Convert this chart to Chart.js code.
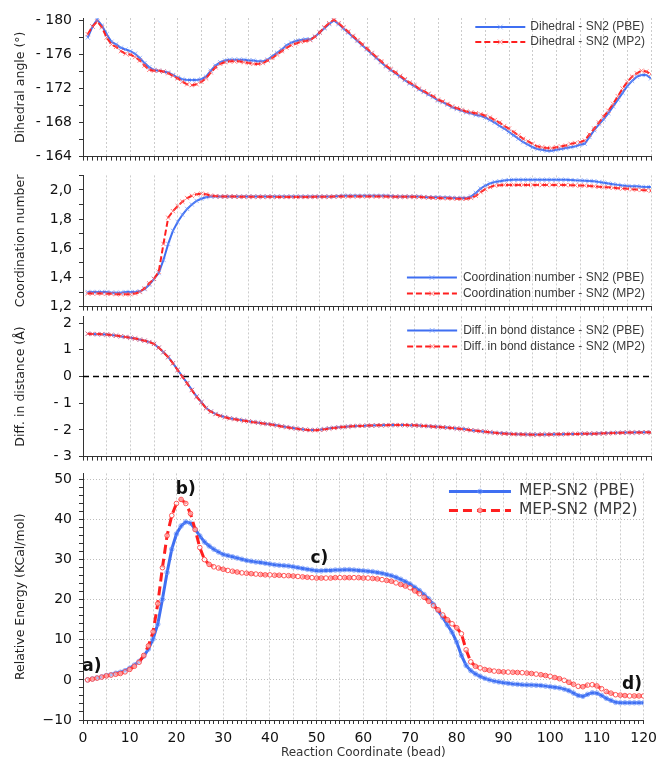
<!DOCTYPE html>
<html>
<head>
<meta charset="utf-8">
<script src="https://cdn.jsdelivr.net/npm/chart.js@4.4.0/dist/chart.umd.min.js"></script>
<style>
    body { margin: 0; background: #fff; }
    #wrap { position: relative; width: 663px; height: 765px; overflow: hidden; }
    .panel { position: absolute; left: 0; width: 663px; }
</style>
</head>
<body>
<div id="wrap">
    <div class="panel" style="top:0;height:172px"><canvas id="dihedralChart"></canvas></div>
    <div class="panel" style="top:160px;height:162px"><canvas id="coordChart"></canvas></div>
    <div class="panel" style="top:301px;height:171px"><canvas id="distChart"></canvas></div>
    <div class="panel" style="top:458px;height:307px"><canvas id="energyChart"></canvas></div>
</div>
<script>
// bead index along the reaction coordinate
const beads = Array.from({ length: 120 }, (_, i) => i + 1);

// Dihedral angle (deg, shown as "- 180" etc.)
const dihedralPbe = [
    178.0, 179.3, 180.1, 179.4, 178.4, 177.5, 177.2, 176.8, 176.6, 176.4,
    176.1, 175.6, 175.0, 174.5, 174.2, 174.1, 174.0, 173.9, 173.6, 173.3,
    173.1, 173.0, 173.0, 173.0, 173.1, 173.4, 174.1, 174.7, 175.1, 175.3,
    175.4, 175.4, 175.4, 175.4, 175.3, 175.3, 175.2, 175.2, 175.4, 175.8,
    176.2, 176.6, 177.1, 177.4, 177.6, 177.7, 177.8, 177.8, 178.1, 178.6,
    179.1, 179.6, 180.0, 179.6, 179.1, 178.6, 178.1, 177.6, 177.1, 176.6,
    176.1, 175.6, 175.1, 174.6, 174.2, 173.8, 173.4, 173.0, 172.6, 172.3,
    171.9, 171.6, 171.3, 171.0, 170.6, 170.4, 170.1, 169.8, 169.6, 169.4,
    169.2, 169.1, 168.9, 168.8, 168.6, 168.3, 168.0, 167.6, 167.3, 166.9,
    166.5, 166.1, 165.7, 165.4, 165.1, 164.9, 164.8, 164.7, 164.7, 164.8,
    164.9, 165.0, 165.1, 165.2, 165.4, 165.5, 166.3, 167.1, 167.8, 168.4,
    169.1, 169.9, 170.7, 171.5, 172.3, 172.9, 173.4, 173.6, 173.6, 173.2
];
const dihedralMp2 = [
    178.4, 179.3, 179.9, 179.2, 178.0, 177.2, 176.9, 176.4, 176.1, 176.0,
    175.7, 175.3, 174.7, 174.2, 174.1, 174.1, 174.0, 173.8, 173.5, 173.2,
    172.8, 172.5, 172.4, 172.5, 172.8, 173.2, 173.9, 174.5, 174.9, 175.1,
    175.2, 175.2, 175.2, 175.1, 175.0, 174.9, 174.9, 175.0, 175.3, 175.6,
    176.0, 176.4, 176.8, 177.1, 177.3, 177.5, 177.6, 177.7, 178.1, 178.6,
    179.2, 179.7, 180.1, 179.7, 179.2, 178.7, 178.2, 177.7, 177.2, 176.7,
    176.2, 175.7, 175.2, 174.7, 174.3, 173.9, 173.5, 173.1, 172.7, 172.4,
    172.0, 171.7, 171.4, 171.1, 170.7, 170.5, 170.2, 169.9, 169.7, 169.5,
    169.3, 169.2, 169.1, 169.0, 168.8, 168.6, 168.3, 168.0, 167.6, 167.3,
    166.9, 166.5, 166.1, 165.8, 165.5, 165.2, 165.1, 165.0, 165.0, 165.1,
    165.2, 165.3, 165.5, 165.6, 165.7, 165.9, 166.6, 167.3, 168.0, 168.7,
    169.4, 170.2, 171.1, 172.0, 172.8, 173.4, 173.8, 174.1, 174.0, 173.7
];

// Coordination number
const coordPbe = [
    1.300, 1.300, 1.300, 1.300, 1.300, 1.295, 1.295, 1.295, 1.300, 1.300,
    1.300, 1.305, 1.320, 1.350, 1.390, 1.430, 1.520, 1.630, 1.720, 1.780,
    1.830, 1.870, 1.900, 1.925, 1.940, 1.950, 1.955, 1.955, 1.955, 1.955,
    1.955, 1.955, 1.955, 1.955, 1.955, 1.955, 1.955, 1.955, 1.955, 1.955,
    1.955, 1.955, 1.955, 1.955, 1.955, 1.955, 1.955, 1.955, 1.955, 1.955,
    1.955, 1.955, 1.955, 1.958, 1.960, 1.960, 1.960, 1.960, 1.960, 1.960,
    1.960, 1.960, 1.960, 1.960, 1.958, 1.955, 1.955, 1.955, 1.955, 1.955,
    1.955, 1.952, 1.950, 1.950, 1.950, 1.948, 1.948, 1.946, 1.945, 1.945,
    1.945, 1.955, 1.980, 2.010, 2.030, 2.045, 2.055, 2.060, 2.065, 2.068,
    2.070, 2.070, 2.070, 2.070, 2.070, 2.070, 2.070, 2.070, 2.070, 2.070,
    2.070, 2.070, 2.068, 2.066, 2.065, 2.064, 2.062, 2.060, 2.055, 2.050,
    2.045, 2.040, 2.035, 2.030, 2.027, 2.025, 2.025, 2.022, 2.020, 2.020
];
const coordMp2 = [
    1.290, 1.290, 1.290, 1.290, 1.288, 1.288, 1.285, 1.285, 1.285, 1.285,
    1.290, 1.300, 1.325, 1.360, 1.390, 1.440, 1.630, 1.810, 1.855, 1.890,
    1.920, 1.945, 1.960, 1.970, 1.975, 1.970, 1.962, 1.958, 1.955, 1.955,
    1.955, 1.955, 1.953, 1.953, 1.953, 1.953, 1.953, 1.953, 1.953, 1.953,
    1.952, 1.952, 1.952, 1.952, 1.952, 1.952, 1.952, 1.952, 1.953, 1.953,
    1.953, 1.953, 1.955, 1.955, 1.956, 1.956, 1.956, 1.956, 1.956, 1.956,
    1.956, 1.956, 1.955, 1.955, 1.954, 1.953, 1.953, 1.953, 1.953, 1.953,
    1.952, 1.950, 1.948, 1.946, 1.945, 1.944, 1.943, 1.942, 1.940, 1.940,
    1.940, 1.945, 1.960, 1.985, 2.005, 2.020, 2.030, 2.033, 2.035, 2.035,
    2.035, 2.035, 2.035, 2.035, 2.035, 2.035, 2.035, 2.035, 2.035, 2.035,
    2.035, 2.034, 2.033, 2.032, 2.030, 2.030, 2.028, 2.025, 2.022, 2.020,
    2.018, 2.015, 2.012, 2.010, 2.008, 2.005, 2.003, 2.000, 1.998, 1.995
];

// Difference in bond distance (A)
const distPbe = [
    1.60, 1.59, 1.58, 1.58, 1.57, 1.55, 1.53, 1.50, 1.48, 1.45,
    1.42, 1.38, 1.34, 1.29, 1.22, 1.08, 0.91, 0.73, 0.50, 0.25,
    0.00, -0.25, -0.50, -0.75, -0.96, -1.18, -1.31, -1.40, -1.47, -1.52,
    -1.56, -1.59, -1.62, -1.65, -1.68, -1.70, -1.73, -1.75, -1.78, -1.80,
    -1.83, -1.86, -1.89, -1.92, -1.95, -1.97, -1.99, -2.00, -2.00, -1.99,
    -1.97, -1.94, -1.92, -1.90, -1.89, -1.87, -1.86, -1.85, -1.85, -1.84,
    -1.84, -1.83, -1.83, -1.82, -1.82, -1.82, -1.82, -1.82, -1.83, -1.83,
    -1.84, -1.85, -1.86, -1.87, -1.88, -1.90, -1.91, -1.93, -1.95, -1.96,
    -1.98, -2.01, -2.03, -2.05, -2.07, -2.09, -2.11, -2.12, -2.13, -2.14,
    -2.15, -2.16, -2.16, -2.17, -2.17, -2.17, -2.17, -2.17, -2.16, -2.16,
    -2.16, -2.15, -2.15, -2.15, -2.14, -2.14, -2.14, -2.14, -2.13, -2.13,
    -2.12, -2.11, -2.11, -2.10, -2.10, -2.10, -2.09, -2.09, -2.09, -2.09
];
const distMp2 = [
    1.60, 1.59, 1.59, 1.58, 1.57, 1.55, 1.53, 1.51, 1.48, 1.45,
    1.42, 1.38, 1.34, 1.29, 1.22, 1.08, 0.91, 0.72, 0.49, 0.24,
    -0.01, -0.26, -0.51, -0.76, -0.97, -1.19, -1.32, -1.41, -1.48, -1.53,
    -1.57, -1.60, -1.63, -1.66, -1.68, -1.71, -1.73, -1.76, -1.78, -1.81,
    -1.84, -1.87, -1.90, -1.93, -1.95, -1.98, -1.99, -2.01, -2.01, -2.00,
    -1.98, -1.95, -1.93, -1.91, -1.89, -1.88, -1.86, -1.85, -1.85, -1.84,
    -1.84, -1.83, -1.83, -1.83, -1.82, -1.82, -1.82, -1.82, -1.83, -1.83,
    -1.84, -1.85, -1.86, -1.88, -1.89, -1.90, -1.92, -1.93, -1.95, -1.97,
    -1.99, -2.01, -2.03, -2.05, -2.07, -2.09, -2.11, -2.13, -2.14, -2.15,
    -2.16, -2.16, -2.17, -2.17, -2.18, -2.18, -2.17, -2.17, -2.17, -2.16,
    -2.16, -2.16, -2.15, -2.15, -2.15, -2.14, -2.14, -2.14, -2.14, -2.13,
    -2.13, -2.12, -2.11, -2.11, -2.10, -2.10, -2.10, -2.10, -2.09, -2.10
];

// Relative energy (kcal/mol)
const energyPbe = [
    0.0, 0.25, 0.5, 0.75, 1.1, 1.3, 1.65, 1.9, 2.3, 2.9,
    3.7, 4.6, 5.9, 7.7, 10.2, 13.9, 20.1, 26.8, 32.6, 36.4,
    38.4, 39.4, 39.1, 37.6, 35.9, 34.4, 33.4, 32.6, 31.9, 31.3,
    31.0, 30.7, 30.4, 30.1, 29.8, 29.6, 29.4, 29.3, 29.1, 28.9,
    28.7, 28.6, 28.5, 28.4, 28.2, 28.0, 27.8, 27.6, 27.4, 27.2,
    27.2, 27.3, 27.3, 27.4, 27.4, 27.5, 27.5, 27.4, 27.3, 27.2,
    27.1, 27.0, 26.8, 26.6, 26.3, 26.0, 25.6, 25.1, 24.5, 23.9,
    23.1, 22.3, 21.3, 20.2, 18.8, 17.3, 15.6, 13.7, 11.9, 9.4,
    6.1, 3.6, 2.3, 1.5, 0.9, 0.4, 0.0, -0.3, -0.5, -0.7,
    -0.85, -1.0, -1.1, -1.2, -1.25, -1.3, -1.35, -1.4, -1.55, -1.7,
    -1.85, -2.0, -2.3, -2.7, -3.3, -3.9, -4.1, -3.6, -3.2, -3.3,
    -3.9, -4.6, -5.1, -5.6, -5.7, -5.7, -5.7, -5.7, -5.7, -5.7
];
const energyMp2 = [
    0.0, 0.2, 0.45, 0.7, 1.0, 1.2, 1.4, 1.6, 2.0, 2.6,
    3.4, 4.4, 6.1, 8.5, 12.0, 19.0, 28.0, 36.0, 41.0, 44.0,
    45.0, 44.0, 41.5, 37.5, 33.0, 30.0, 28.8, 28.2, 27.9, 27.6,
    27.3, 27.1, 26.9, 26.7, 26.6, 26.5, 26.4, 26.3, 26.2, 26.2,
    26.1, 26.1, 26.0, 26.0, 25.9, 25.8, 25.7, 25.6, 25.5, 25.4,
    25.4, 25.4, 25.4, 25.5, 25.5, 25.5, 25.5, 25.5, 25.5, 25.4,
    25.4, 25.3, 25.2, 25.0, 24.8, 24.6, 24.2, 23.8, 23.4, 23.0,
    22.2, 21.5, 20.6, 19.6, 18.5, 17.5, 16.2, 15.0, 14.0, 13.0,
    11.5, 7.5, 4.5, 3.4, 3.0, 2.6, 2.4, 2.2, 2.1, 2.0,
    1.95, 1.9, 1.85, 1.8, 1.7, 1.6, 1.45, 1.3, 1.1, 0.9,
    0.6, 0.3, -0.1, -0.6, -1.1, -1.6, -1.7, -1.3, -1.2, -1.5,
    -2.2, -2.9, -3.3, -3.7, -3.8, -3.9, -4.0, -4.0, -4.0, -4.0
];

// reference line in the distance panel
const zeroLineX = [0, 120];
const zeroLineY = [0, 0];

const BLUE = "#3f6ff2";
const BLUE_MARK = "rgba(110,150,250,0.7)";
const RED = "#ff1f1f";
const RED_MARK = "rgba(255,90,90,0.75)";

const toPoints = (xs, ys) => ys.map((y, i) => ({ x: xs[i], y }));

Chart.defaults.font.family = "'DejaVu Sans', sans-serif";
Chart.defaults.color = "#222";

// legend drawn inside the plot area
const insideLegend = {
    id: "insideLegend",
    afterDatasetsDraw(chart, args, opts) {
        if (!opts.rows) return;
        const { ctx, chartArea } = chart;
        const items = chart.data.datasets.filter(d => d.label);
        ctx.save();
        ctx.font = opts.font;
        const textW = Math.max(...items.map(d => ctx.measureText(d.label).width));
        const textX = chartArea.right - opts.right - textW;
        items.forEach((d, i) => {
            const y = opts.anchor === "bottom"
                ? chartArea.bottom - opts.rows[items.length - 1 - i]
                : chartArea.top + opts.rows[i];
            const x2 = textX - opts.gap, x1 = x2 - opts.sample;
            ctx.strokeStyle = d.borderColor;
            ctx.lineWidth = d.borderWidth;
            ctx.setLineDash(d.borderDash || []);
            ctx.beginPath();
            ctx.moveTo(x1, y);
            ctx.lineTo(x2, y);
            ctx.stroke();
            ctx.setLineDash([]);
            const cx = (x1 + x2) / 2, r = d.pointRadius;
            ctx.strokeStyle = d.pointBorderColor;
            ctx.lineWidth = 1;
            ctx.beginPath();
            if (d.pointStyle === "circle") {
                ctx.fillStyle = d.pointBackgroundColor;
                ctx.arc(cx, y, r, 0, Math.PI * 2);
                ctx.fill();
            } else {
                ctx.moveTo(cx - r * 0.8, y - r * 0.8); ctx.lineTo(cx + r * 0.8, y + r * 0.8);
                ctx.moveTo(cx - r * 0.8, y + r * 0.8); ctx.lineTo(cx + r * 0.8, y - r * 0.8);
            }
            ctx.stroke();
            ctx.fillStyle = "#3a3a3a";
            ctx.textBaseline = "middle";
            ctx.textAlign = "left";
            ctx.fillText(d.label, textX, y);
        });
        ctx.restore();
    }
};

// a) b) c) d) markers on the energy profile
const pointLabels = {
    id: "pointLabels",
    afterDatasetsDraw(chart, args, opts) {
        if (!opts.labels) return;
        const { ctx, scales } = chart;
        ctx.save();
        ctx.font = "bold 17px 'DejaVu Sans', sans-serif";
        ctx.fillStyle = "#111";
        ctx.textAlign = "center";
        ctx.textBaseline = "middle";
        opts.labels.forEach(l => {
            ctx.fillText(l.text, scales.x.getPixelForValue(l.x), scales.y.getPixelForValue(l.y));
        });
        ctx.restore();
    }
};

function lineSet(label, xs, ys, color, markColor, dashed, big) {
    return {
        label,
        data: toPoints(xs, ys),
        borderColor: color,
        borderWidth: big ? 3 : 2,
        borderDash: dashed ? (big ? [9, 5] : [6, 3]) : [],
        pointStyle: big ? "circle" : "crossRot",
        pointRadius: big ? 2.3 : 3,
        pointBorderWidth: 1,
        pointBorderColor: markColor,
        pointBackgroundColor: big ? (dashed ? "rgba(255,255,255,0.55)" : "rgba(255,255,255,0)") : markColor,
        tension: 0,
        order: dashed ? 0 : 1
    };
}

function makePanel(id, p) {
    const ctx = document.getElementById(id)?.getContext("2d");
    if (!ctx) return;
    new Chart(ctx, {
        type: "line",
        data: { datasets: p.datasets },
        options: {
            responsive: true,
            maintainAspectRatio: false,
            animation: false,
            layout: { padding: { left: 0, right: 12, top: p.top, bottom: p.bottom } },
            plugins: {
                legend: { display: false },
                tooltip: { enabled: false },
                insideLegend: p.legend,
                pointLabels: p.pointLabels || {}
            },
            scales: {
                x: {
                    type: "linear",
                    min: 0,
                    max: 120,
                    afterFit: s => { s.height = p.xHeight; },
                    ticks: {
                        display: !!p.xLabels,
                        stepSize: 1,
                        autoSkip: false,
                        maxRotation: 0,
                        minRotation: 0,
                        padding: 6,
                        color: "#111",
                        font: { size: 14 },
                        callback: v => (v % 10 === 0 ? String(v) : "")
                    },
                    grid: {
                        color: c => (c.tick && c.tick.value % 5 === 0 && c.tick.value > 0 ? "#cccccc" : "rgba(0,0,0,0)"),
                        lineWidth: 1,
                        tickColor: "#333",
                        tickLength: 4,
                        tickBorderDash: []
                    },
                    border: { display: true, color: "#333", width: 1, dash: [2, 2] },
                    title: {
                        display: !!p.xLabels,
                        text: "Reaction Coordinate (bead)",
                        color: "#333",
                        font: { size: 12 },
                        padding: { top: 2, bottom: 5 }
                    }
                },
                y: {
                    min: p.yMin,
                    max: p.yMax,
                    afterFit: s => { s.width = 83; },
                    ticks: {
                        stepSize: p.yStep,
                        includeBounds: false,
                        autoSkip: false,
                        padding: 7,
                        color: "#111",
                        font: { size: 14 },
                        callback: p.yFormat
                    },
                    grid: {
                        drawOnChartArea: !!p.yGrid,
                        color: c => (p.yGrid && p.yGrid(c.tick && c.tick.value) ? "#bdbdbd" : "rgba(0,0,0,0)"),
                        tickColor: "#333",
                        tickLength: 4,
                        tickBorderDash: []
                    },
                    border: { display: true, color: "#333", width: 1, dash: [1, 2] },
                    title: {
                        display: true,
                        text: p.yTitle,
                        color: "#222",
                        font: { size: 12.5 },
                        padding: { top: 13, bottom: 0 }
                    }
                }
            }
        },
        plugins: [insideLegend, pointLabels]
    });
}

document.addEventListener("DOMContentLoaded", () => {
    makePanel("dihedralChart", {
        datasets: [
            lineSet("Dihedral - SN2 (PBE)", beads, dihedralPbe, BLUE, BLUE_MARK, false, false),
            lineSet("Dihedral - SN2 (MP2)", beads, dihedralMp2, RED, RED_MARK, true, false)
        ],
        top: 18, bottom: 5, xHeight: 5,
        yMin: 164, yMax: 180.3, yStep: 2,
        yFormat: v => (Math.round(v) % 4 === 0 ? "- " + v : ""),
        yTitle: "Dihedral angle (\u00b0)",
        legend: { anchor: "top", rows: [9, 24], right: 6, gap: 5, sample: 50, font: "12px 'Liberation Sans', sans-serif" }
    });

    makePanel("coordChart", {
        datasets: [
            lineSet("Coordination number - SN2 (PBE)", beads, coordPbe, BLUE, BLUE_MARK, false, false),
            lineSet("Coordination number - SN2 (MP2)", beads, coordMp2, RED, RED_MARK, true, false)
        ],
        top: 12, bottom: 5, xHeight: 5,
        yMin: 1.2, yMax: 2.1, yStep: 0.1,
        yFormat: v => (Math.round(v * 10) % 2 === 0 ? v.toFixed(1).replace(".", ",") : ""),
        yTitle: "Coordination number",
        legend: { anchor: "bottom", rows: [13, 29], right: 6, gap: 6, sample: 50, font: "12px 'Liberation Sans', sans-serif" }
    });

    makePanel("distChart", {
        datasets: [
            lineSet("Diff. in bond distance - SN2 (PBE)", beads, distPbe, BLUE, BLUE_MARK, false, false),
            lineSet("Diff. in bond distance - SN2 (MP2)", beads, distMp2, RED, RED_MARK, true, false),
            {
                data: toPoints(zeroLineX, zeroLineY),
                borderColor: "#000",
                borderWidth: 1.5,
                borderDash: [6, 4],
                pointRadius: 0,
                order: 2
            }
        ],
        top: 7, bottom: 5, xHeight: 5,
        yMin: -3, yMax: 2.25, yStep: 1,
        yFormat: v => (v < 0 ? "- " + Math.abs(v) : String(v)),
        yTitle: "Diff. in distance (\u00c5)",
        legend: { anchor: "top", rows: [14, 30], right: 6, gap: 6, sample: 50, font: "12px 'Liberation Sans', sans-serif" }
    });

    makePanel("energyChart", {
        datasets: [
            lineSet("MEP-SN2 (PBE)", beads, energyPbe, BLUE, BLUE_MARK, false, true),
            lineSet("MEP-SN2 (MP2)", beads, energyMp2, RED, "rgba(255,70,70,0.9)", true, true)
        ],
        top: 10, bottom: 0, xHeight: 45,
        yMin: -10, yMax: 51.5, yStep: 2,
        yFormat: v => (v % 10 === 0 ? (v < 0 ? "\u2212" + Math.abs(v) : String(v)) : ""),
        yGrid: v => v % 10 === 0 && v > -10,
        yTitle: "Relative Energy (KCal/mol)",
        legend: { anchor: "top", rows: [18, 37], right: 6, gap: 8, sample: 62, font: "15.5px 'DejaVu Sans', sans-serif" },
        xLabels: true,
        pointLabels: {
            labels: [
                { text: "a)", x: 1.9, y: 3.3 },
                { text: "b)", x: 22, y: 47.5 },
                { text: "c)", x: 50.6, y: 30.3 },
                { text: "d)", x: 117.5, y: -1.2 }
            ]
        }
    });
});
</script>
</body>
</html>
